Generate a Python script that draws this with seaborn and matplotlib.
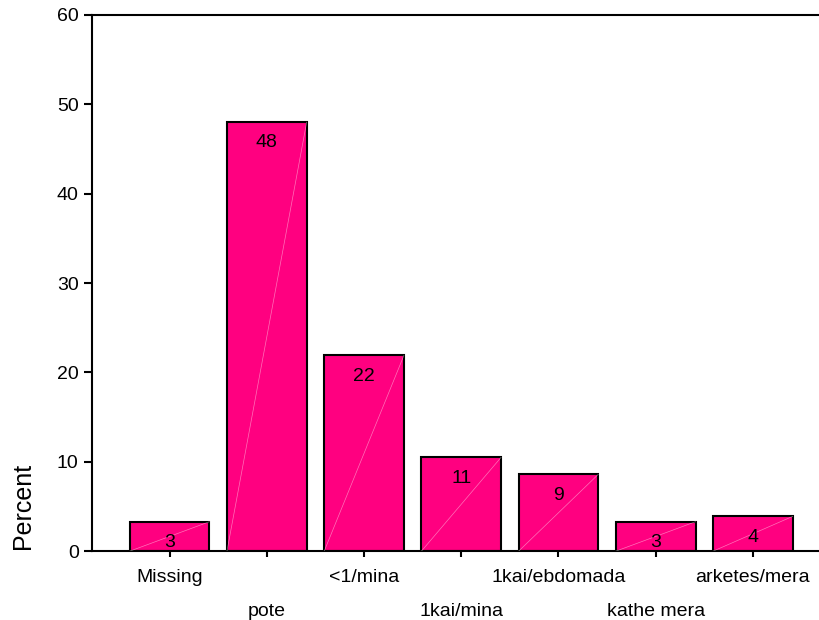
import pandas as pd
import matplotlib
matplotlib.use("Agg")
import matplotlib.pyplot as plt
import seaborn as sns

categories = ["Missing", "pote", "<1/mina", "1kai/mina", "1kai/ebdomada", "kathe mera", "arketes/mera"]
percent = [3.3, 48.0, 21.9, 10.5, 8.6, 3.3, 3.9]
bar_labels = ["3", "48", "22", "11", "9", "3", "4"]

df = pd.DataFrame({"category": categories, "percent": percent})

sns.set_style("ticks", {"axes.edgecolor": "black", "text.color": "black",
                        "xtick.color": "black", "ytick.color": "black",
                        "axes.labelcolor": "black"})
plt.rcParams["font.family"] = ["Liberation Sans", "DejaVu Sans"]

fig = plt.figure(figsize=(8.2, 6.2), dpi=100)
ax = fig.add_axes([0.112, 0.111, 0.888, 0.865])

sns.barplot(data=df, x="category", y="percent", color="#FF0080", saturation=1,
            width=0.82, edgecolor="black", linewidth=1.5, ax=ax)

# thin white diagonal inside each bar, like the SPSS export
for p in ax.patches:
    x0, y0 = p.get_x(), p.get_y()
    ax.plot([x0, x0 + p.get_width()], [y0, y0 + p.get_height()],
            color="white", lw=0.5, alpha=0.45, zorder=3)

for p, lab in zip(ax.patches, bar_labels):
    ax.annotate(lab, (p.get_x() + p.get_width() / 2, p.get_height()),
                xytext=(0, -15), textcoords="offset points",
                ha="center", va="center", fontsize=14, color="black", zorder=4)

ax.set_ylim(0, 60)
ax.set_xlim(-0.8, 6.69)
ax.set_yticks([0, 10, 20, 30, 40, 50, 60])
ax.tick_params(axis="y", labelsize=14, length=6, width=1.5, colors="black")
ax.tick_params(axis="x", labelsize=14, length=4, width=1.5, pad=9, colors="black")
for i, t in enumerate(ax.xaxis.get_major_ticks()):
    if i % 2 == 1:
        t.set_pad(33)

ax.set_xlabel("")
ax.set_ylabel("Percent", fontsize=18, color="black")
ax.yaxis.set_label_coords(-0.078, 0.085)

for s in ["left", "bottom", "top"]:
    ax.spines[s].set_visible(True)
    ax.spines[s].set_linewidth(1.5)
    ax.spines[s].set_color("black")
ax.spines["right"].set_visible(False)

fig.savefig("out.png", dpi=100)
